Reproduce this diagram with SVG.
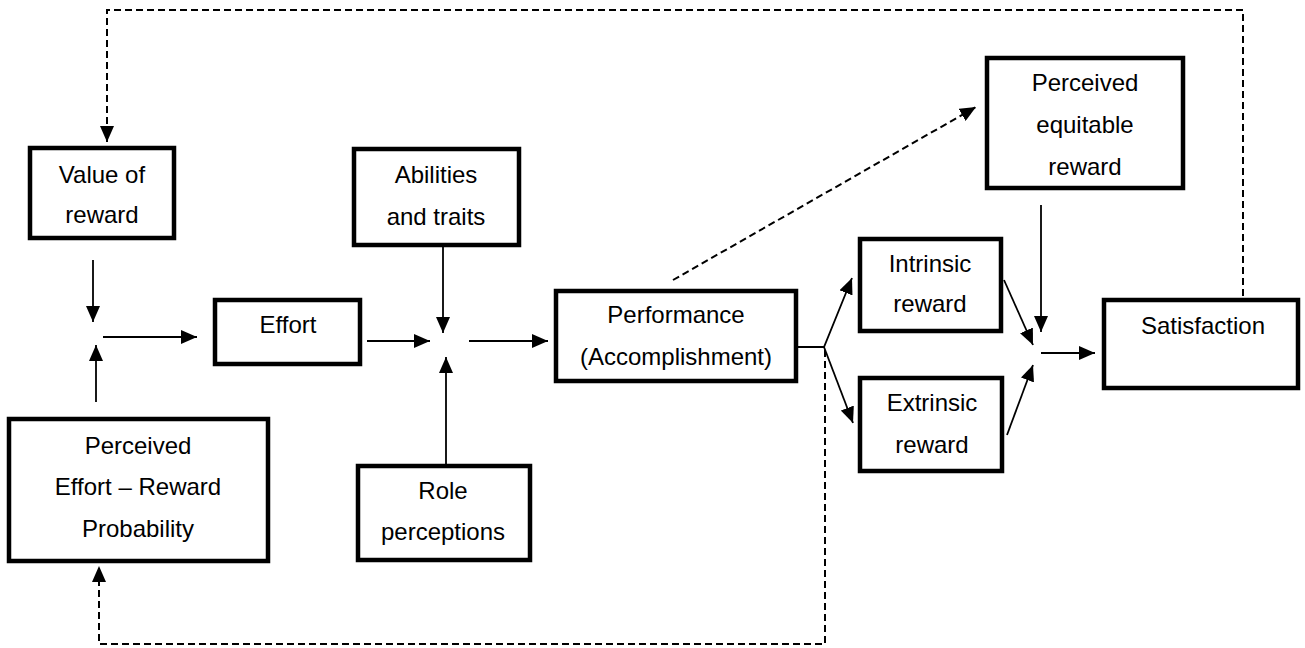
<svg xmlns="http://www.w3.org/2000/svg" width="1305" height="648" viewBox="0 0 1305 648">
<style>
.box{fill:#fff;stroke:#000;stroke-width:4.5}
.t{font-family:"Liberation Sans",Arial,sans-serif;font-size:24px;fill:#000;text-anchor:middle}
.ln{fill:none;stroke:#000;stroke-width:1.8}
.ar{marker-end:url(#ah)}
.ds{fill:none;stroke:#000;stroke-width:2;stroke-dasharray:7 4}
</style>
<defs>
<marker id="ah" markerUnits="userSpaceOnUse" markerWidth="16" markerHeight="14" refX="16" refY="7" orient="auto">
<path d="M0,0 L16,7 L0,14 Z" fill="#000"/>
</marker>
</defs>
<rect width="1305" height="648" fill="#fff"/>
<g id="connectors">
<path class="ds ar" d="M1243,296 V10 H107 V142"/>
<path class="ds ar" d="M825,350 V644 H99 V566"/>
<path class="ds ar" d="M673,280 L976,107"/>
<path class="ln ar" d="M93,260 V322"/>
<path class="ln ar" d="M96,402 V345"/>
<path class="ln ar" d="M103,337 H197"/>
<path class="ln ar" d="M367,341 H430"/>
<path class="ln ar" d="M443,247 V333"/>
<path class="ln ar" d="M446,464 V357"/>
<path class="ln ar" d="M469,341 H548"/>
<path class="ln ar" d="M798,347 H824 L852,278"/>
<path class="ln ar" d="M824,347 L853,423"/>
<path class="ln ar" d="M1004,280 L1033,345"/>
<path class="ln ar" d="M1007,435 L1033,365"/>
<path class="ln ar" d="M1041,205 V332"/>
<path class="ln ar" d="M1041,353 H1095"/>
</g>
<g id="value-of-reward">
<rect class="box" x="30" y="148" width="144" height="90"/>
<text class="t" x="102" y="183">Value of</text>
<text class="t" x="102" y="223">reward</text>
</g>
<g id="effort">
<rect class="box" x="215" y="300" width="145" height="64"/>
<text class="t" x="288" y="333">Effort</text>
</g>
<g id="perceived-effort-reward-probability">
<rect class="box" x="9" y="419" width="259" height="142"/>
<text class="t" x="138" y="454">Perceived</text>
<text class="t" x="138" y="495">Effort – Reward</text>
<text class="t" x="138" y="537">Probability</text>
</g>
<g id="abilities-and-traits">
<rect class="box" x="354" y="149" width="165" height="96"/>
<text class="t" x="436" y="183">Abilities</text>
<text class="t" x="436" y="225">and traits</text>
</g>
<g id="role-perceptions">
<rect class="box" x="358" y="466" width="172" height="94"/>
<text class="t" x="443" y="499">Role</text>
<text class="t" x="443" y="540">perceptions</text>
</g>
<g id="performance">
<rect class="box" x="556" y="291" width="240" height="90"/>
<text class="t" x="676" y="323">Performance</text>
<text class="t" x="676" y="365">(Accomplishment)</text>
</g>
<g id="intrinsic-reward">
<rect class="box" x="860" y="239" width="141" height="92"/>
<text class="t" x="930" y="272">Intrinsic</text>
<text class="t" x="930" y="312">reward</text>
</g>
<g id="extrinsic-reward">
<rect class="box" x="860" y="378" width="142" height="93"/>
<text class="t" x="932" y="411">Extrinsic</text>
<text class="t" x="932" y="453">reward</text>
</g>
<g id="perceived-equitable-reward">
<rect class="box" x="987" y="58" width="196" height="130"/>
<text class="t" x="1085" y="91">Perceived</text>
<text class="t" x="1085" y="133">equitable</text>
<text class="t" x="1085" y="175">reward</text>
</g>
<g id="satisfaction">
<rect class="box" x="1104" y="300" width="194" height="88"/>
<text class="t" x="1203" y="334">Satisfaction</text>
</g>
</svg>
